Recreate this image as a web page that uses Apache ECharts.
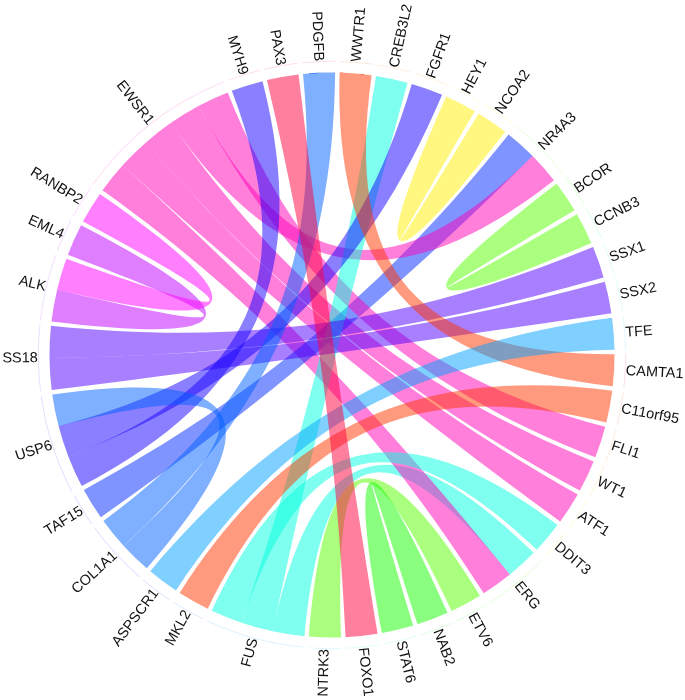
<!DOCTYPE html>
<html>
<head>
<meta charset="utf-8">
<style>html,body{margin:0;padding:0;background:#fff}#c{width:685px;height:700px}</style>
<script src="https://cdn.jsdelivr.net/npm/echarts@6/dist/echarts.min.js"></script>
</head>
<body>
<div id="c"></div>
<script>
const genes = ['PDGFB','WWTR1','CREB3L2','FGFR1','HEY1','NCOA2','NR4A3','BCOR','CCNB3','SSX1','SSX2','TFE','CAMTA1','C11orf95','FLI1','WT1','ATF1','DDIT3','ERG','ETV6','NAB2','STAT6','FOXO1','NTRK3','FUS','MKL2','ASPSCR1','COL1A1','TAF15','USP6','SS18','ALK','EML4','RANBP2','EWSR1','MYH9','PAX3'];
const geneWeights = [1,1,1,1,1,1,2,1,1,1,1,1,1,1,1,1,1,1,2,1,1,1,1,1,3,1,1,2,1,3,2,2,1,1,5,1,1];
const geneColors = ['#0060ff','#ff3500','#00ffe0','#1500ff','#fff000','#fff000','#002aff','#55ff00','#55ff00','#5000ff','#5000ff','#00a0ff','#ff3500','#ff3500','#ff00b8','#ff00b8','#ff00b8','#00ffe0','#ff00b8','#55ff00','#15ff00','#15ff00','#ff0040','#55ff00','#00ffe0','#ff3500','#00a0ff','#0060ff','#002aff','#1500ff','#5000ff','#ff00ff','#c000ff','#ff00ff','#ff00b8','#1500ff','#ff0040'];
const ringColors = ['#ffdfea','#ffe6df','#ffeee2','#fff3df','#fff9df','#f9ffdf','#ecffdf','#e3ffdf','#dfffe8','#dffff2','#dffffa','#dff7ff','#ffdfe4','#ffe3df','#ffebdf','#fff3df','#fffbdf','#f6ffdf','#e9ffdf','#e0ffdf','#dfffe6','#dfffef','#dffff8','#dffbff','#dff4ff','#dfecff','#dfe7ff','#dfe3ff','#e0dfff','#e5dfff','#e9dfff','#f0dfff','#f6dfff','#fbdfff','#ffdff6','#ffdfec','#ffdfe6'];
const linkSources = ['FUS','EWSR1','EWSR1','EWSR1','TAF15','EWSR1','EWSR1','FUS','FUS','SS18','SS18','EML4','RANBP2','MYH9','FGFR1','COL1A1','COL1A1','WWTR1','HEY1','BCOR','ASPSCR1','MKL2','NTRK3','NAB2','PAX3'];
const linkTargets = ['ERG','ERG','ATF1','WT1','NR4A3','NR4A3','FLI1','CREB3L2','DDIT3','SSX2','SSX1','ALK','ALK','USP6','USP6','USP6','PDGFB','CAMTA1','NCOA2','CCNB3','TFE','C11orf95','ETV6','STAT6','FOXO1'];
const linkValues = [1,1,1,1,1,1,1,1,1,1,1,1,1,1,1,1,1,1,1,1,1,1,1,1,1];

const center = [332, 355];
const linkR = 282.5, ringOuter = 294.2, ringInner = 293.2;
const pad = 0.9, start = 95.9;
const totalWeight = geneWeights.reduce((a,b)=>a+b,0);
const unitAngle = (360 - pad*genes.length)/totalWeight;

const chart = echarts.init(document.getElementById('c'), null, {renderer:'canvas'});
chart.setOption({
  animation:false,
  backgroundColor:'#fff',
  series:[
    {
      type:'chord', center:center, radius:[linkR, linkR+0.01], startAngle:start, padAngle:pad, minAngle:0, clockwise:true,
      silent:true,
      itemStyle:{borderWidth:0},
      label:{show:false},
      lineStyle:{color:'source',opacity:0.5,width:0},
      data:genes.map((n,i)=>({name:n,itemStyle:{color:geneColors[i]}})),
      links:linkSources.map((s,i)=>({source:s,target:linkTargets[i],value:linkValues[i]}))
    },
    {
      type:'pie', center:center, radius:[ringInner, ringOuter], startAngle:start+pad/2, padAngle:pad, clockwise:true, sort:null,
      avoidLabelOverlap:false, silent:true, minAngle:0,
      label:{show:true,position:'outside',rotate:'radial',fontFamily:'Liberation Sans',fontSize:14.5,color:'#111',distanceToLabelLine:0},
      labelLine:{show:false,length:0,length2:0},
      emphasis:{disabled:true},
      data:genes.map((n,i)=>({name:n,value:geneWeights[i]*unitAngle+pad,itemStyle:{color:ringColors[i]}}))
    }
  ]
});
</script>
</body>
</html>
